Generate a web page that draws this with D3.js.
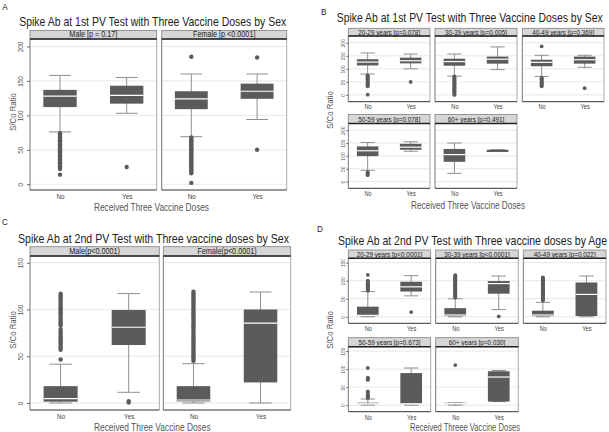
<!DOCTYPE html>
<html>
<head>
<meta charset="utf-8">
<script src="https://cdn.jsdelivr.net/npm/d3@7"></script>
<style>
  body { margin: 0; background: #fff; }
  svg { display: block; font-family: "Liberation Sans", Arial, sans-serif; }
</style>
</head>
<body>
<div id="container"></div>
<script>
// ---- data ----
const doses = ["No", "Yes"];

// box stats per facet: [lower whisker, q1, median, q3, upper whisker] for No, Yes
const stripsA = ["Male [p = 0.17]", "Female [p <0.0001]"];
const boxesA = [
  [[76, 112, 128, 137, 158], [103, 117, 129, 143, 155]],
  [[69, 109, 124, 135, 160], [94, 124, 135, 146, 160]]
];
const outliersA = [
  [[74, 72, 70, 68, 66, 64, 62, 60, 58, 56, 54, 52, 50, 48, 46, 44, 42, 40, 38, 36, 34, 32, 30, 28, 26, 24, 22, 14], [25]],
  [[185, 68, 66, 64, 62, 60, 58, 56, 54, 52, 50, 48, 46, 44, 42, 40, 38, 36, 34, 32, 30, 28, 26, 24, 22, 20, 18, 16, 2], [184, 50]]
];

const stripsB = ["20-29 years [p=0.078]", "30-39 years [p=0.005]", "40-49 years [p=0.369]", "50-59 years [p=0.078]", "60+ years [p=0.491]"];
const boxesB = [
  [[80, 113, 126, 137, 161], [100, 121, 131, 143, 157]],
  [[72, 112, 128, 139, 157], [97, 120, 137, 147, 184]],
  [[71, 110, 125, 135, 152], [106, 120, 135, 147, 152]],
  [[44, 99, 120, 137, 152], [118, 124, 134, 147, 155]],
  [[32, 77, 105, 127, 150], [113, 113, 113, 124, 124]]
];
const outliersB = [
  [[75, 72, 69, 66, 63, 60, 57, 54, 51, 48, 45, 42, 39, 36, 33, 1], [50]],
  [[71, 68, 65, 62, 59, 56, 53, 50, 47, 44, 41, 38, 35, 32, 29, 26, 23, 20, 17, 14, 11, 8, 5, 2, 0], []],
  [[186, 66, 63, 60, 57, 54, 51, 48, 45, 42, 39, 36, 33], [26]],
  [[37, 34, 31, 28, 25], []],
  [[], []]
];

const stripsC = ["Male(p<0.0001)", "Female(p<0.0001)"];
const boxesC = [
  [[0, 1.4, 4.6, 18, 41.5], [11.4, 62, 81, 99.4, 117]],
  [[0, 1.7, 3.2, 18, 42], [0, 22, 85.4, 100, 118.7]]
];
const outliersC = [
  [[46.5, 57, 59, 61, 63, 65, 67, 69, 71, 73, 75, 77, 79, 83, 85, 87, 89, 91, 93, 95, 97, 99, 101, 103, 105, 107, 109, 111, 113, 115, 117], [2, 0.5]],
  [[45, 47, 49, 51, 53, 55, 57, 59, 61, 63, 65, 67, 69, 71, 73, 75, 77, 79, 81, 83, 85, 87, 89, 91, 93, 95, 97, 99, 101, 103, 105, 107, 109, 111, 113, 115, 117, 119], []]
];

const stripsD = ["20-29 years [p<0.0001]", "30-39 years [p<0.0001]", "40-49 years [p=0.022]", "50-59 years [p=0.673]", "60+ years [p=0.030]"];
const boxesD = [
  [[0, 2, 4, 28, 70], [58, 70, 83, 97, 114]],
  [[0, 2, 5, 24, 50], [20, 64, 92, 99, 113]],
  [[0, 2, 5, 17, 40], [0, 2, 62, 95, 113]],
  [[0, 3, 4, 7, 17], [0, 3, 4, 89, 103]],
  [[0, 3, 5, 7, 7], [10, 10, 78, 94, 96]]
];
const outliersD = [
  [[116, 100, 98, 96, 92, 90, 88, 86, 84, 82, 80, 78, 76, 74, 72], [13]],
  [[115, 113, 111, 109, 107, 105, 103, 101, 99, 97, 95, 93, 91, 89, 87, 85, 83, 81, 79, 77, 75, 73, 71, 69, 67, 65, 63, 61, 59, 57, 55, 53], [1]],
  [[109, 107, 105, 103, 101, 99, 97, 95, 93, 91, 89, 87, 85, 83, 81, 79, 77, 75, 73, 71, 69, 67, 65, 63, 61, 59, 57, 55, 53, 51, 49, 47, 45], []],
  [[103, 76, 74, 72, 70, 38, 36, 30, 28, 25, 22, 20], []],
  [[111], []]
];

// ---- layout ----
const SX = 0.86; // the source text is horizontally condensed

const figures = [
  { strips: stripsA, boxes: boxesA, outliers: outliersA,
    cols: [[30, 156.7], [161.7, 286.7]], rows: [[30.5, 39, 190]], perRow: 2,
    domain: [-8.3, 210.8], ticks: [0, 50, 100, 150, 200],
    stripFont: 8.4, tickFont: 7.4, tickOff: 9.3, tickLen: 3, xFont: 7.4, xOff: 6.7, r: 2.2,
    letter: ["A", 5, 7], title: ["Spike Ab at 1st PV Test with Three Vaccine Doses by Sex", 152.7, 21.3, 267],
    xTitle: ["Received Three Vaccine Doses", 151.5, 208, 115], yTitle: [12.3, 112] },
  { strips: stripsB, boxes: boxesB, outliers: outliersB,
    cols: [[348.3, 430], [435, 517], [522.3, 604]], rows: [[28.3, 36, 101.7], [114.5, 123.5, 188.3]], perRow: 3,
    domain: [-26, 226], ticks: [0, 50, 100, 150, 200],
    stripFont: 7.4, tickFont: 5.9, tickOff: 5.6, tickLen: 2, xFont: 6.6, xOff: 4.6, r: 1.9,
    letter: ["B", 323.7, 12], title: ["Spike Ab at 1st PV Test with Three Vaccine Doses by Sex", 469.7, 18, 266],
    xTitle: ["Received Three Vaccine Doses", 468, 205.7, 114], yTitle: [330, 110] },
  { strips: stripsC, boxes: boxesC, outliers: outliersC,
    cols: [[30, 159.3], [163.3, 290.7]], rows: [[246.7, 256, 410]], perRow: 2,
    domain: [-7.5, 157.2], ticks: [0, 50, 100, 150],
    stripFont: 8.4, tickFont: 7.4, tickOff: 9.3, tickLen: 3, xFont: 7.4, xOff: 6, r: 2.2,
    letter: ["C", 5, 222], title: ["Spike Ab at 2nd PV Test with Three vaccine doses by Sex", 153.5, 238.7, 271],
    xTitle: ["Received Three Vaccine Doses", 152.3, 427.7, 116.7], yTitle: [12.3, 330] },
  { strips: stripsD, boxes: boxesD, outliers: outliersD,
    cols: [[348.3, 430.7], [435.7, 518.3], [523.3, 606]], rows: [[250, 258.3, 323.3], [337.7, 346.7, 411.7]], perRow: 3,
    domain: [-18, 162], ticks: [0, 50, 100, 150],
    stripFont: 7.4, tickFont: 5.9, tickOff: 5.6, tickLen: 2, xFont: 6.6, xOff: 5.3, r: 1.9,
    letter: ["D", 320, 228.5], title: ["Spike Ab at 2nd PV Test with Three vaccine doses by Age", 472.5, 241, 269],
    xTitle: ["Received Threee Vaccine Doses", 465, 427.3, 110], yTitle: [330, 330] }
];

const boxFill = "#5b5b5b";
const whiskerColor = "#8f8f8f";

const svg = d3.select("#container")
  .append("svg")
  .attr("width", 609)
  .attr("height", 432);

svg.append("rect").attr("width", 609).attr("height", 432).attr("fill", "#fff");

function label(g, x, y, s, size, opts = {}) {
  const t = g.append("text")
    .attr("transform", `translate(${x},${y})${opts.rotate ? " rotate(-90)" : ""} scale(${SX},1)`)
    .attr("text-anchor", opts.anchor || "middle")
    .attr("dominant-baseline", "central")
    .attr("font-size", size)
    .attr("fill", opts.color || "#333")
    .text(s);
  if (opts.width) t.attr("textLength", opts.width / SX).attr("lengthAdjust", "spacingAndGlyphs");
  return t;
}

function drawFacet(fig, i) {
  const [left, right] = fig.cols[i % fig.perRow];
  const [sTop, sBot, pBot] = fig.rows[Math.floor(i / fig.perRow)];

  const x = d3.scalePoint().domain(doses).range([left, right]).padding(0.45);
  const y = d3.scaleLinear().domain(fig.domain).range([pBot, sBot]);
  const bw = x.step() * 0.5;
  const cw = bw * 0.66;

  const g = svg.append("g");

  g.selectAll("line.grid")
    .data(fig.ticks)
    .join("line")
    .attr("x1", left).attr("x2", right)
    .attr("y1", d => y(d)).attr("y2", d => y(d))
    .attr("stroke", "#e2e2e2")
    .attr("stroke-width", 0.8);

  const boxes = g.selectAll("g.box")
    .data(doses.map((d, j) => ({ dose: d, s: fig.boxes[i][j], out: fig.outliers[i][j] })))
    .join("g");

  boxes.append("line")
    .attr("x1", d => x(d.dose)).attr("x2", d => x(d.dose))
    .attr("y1", d => y(d.s[0])).attr("y2", d => y(d.s[4]))
    .attr("stroke", whiskerColor);

  boxes.selectAll("line.cap")
    .data(d => [d.s[0], d.s[4]].map(v => ({ dose: d.dose, v })))
    .join("line")
    .attr("x1", d => x(d.dose) - cw / 2).attr("x2", d => x(d.dose) + cw / 2)
    .attr("y1", d => y(d.v)).attr("y2", d => y(d.v))
    .attr("stroke", whiskerColor);

  boxes.append("rect")
    .attr("x", d => x(d.dose) - bw / 2)
    .attr("width", bw)
    .attr("y", d => y(d.s[3]))
    .attr("height", d => Math.max(1, y(d.s[1]) - y(d.s[3])))
    .attr("fill", boxFill);

  boxes.append("line")
    .attr("x1", d => x(d.dose) - bw / 2).attr("x2", d => x(d.dose) + bw / 2)
    .attr("y1", d => y(d.s[2])).attr("y2", d => y(d.s[2]))
    .attr("stroke", "#fff")
    .attr("stroke-width", 1.2);

  boxes.selectAll("circle")
    .data(d => d.out.map(v => ({ dose: d.dose, v })))
    .join("circle")
    .attr("cx", d => x(d.dose))
    .attr("cy", d => y(d.v))
    .attr("r", fig.r)
    .attr("fill", boxFill);

  // y axis on the first column only
  if (i % fig.perRow === 0) {
    const ay = g.append("g")
      .attr("transform", `translate(${left},0)`)
      .call(d3.axisLeft(y).tickValues(fig.ticks).tickSize(fig.tickLen).tickSizeOuter(0));
    ay.select(".domain").remove();
    ay.attr("font-size", null).attr("font-family", null);
    ay.selectAll(".tick line").attr("stroke", "#666");
    ay.selectAll(".tick text")
      .attr("x", 0).attr("dy", 0)
      .attr("transform", `translate(${-fig.tickOff},0) rotate(-90) scale(${SX},1)`)
      .attr("text-anchor", "middle")
      .attr("dominant-baseline", "central")
      .attr("font-size", fig.tickFont)
      .attr("fill", "#555");
  }

  const ax = g.append("g")
    .attr("transform", `translate(0,${pBot})`)
    .call(d3.axisBottom(x).tickSize(0).tickSizeOuter(0));
  ax.select(".domain").remove();
  ax.attr("font-size", null).attr("font-family", null);
  ax.selectAll(".tick text")
    .attr("y", 0).attr("dy", 0)
    .attr("transform", `translate(0,${fig.xOff}) scale(${SX},1)`)
    .attr("dominant-baseline", "central")
    .attr("font-size", fig.xFont)
    .attr("fill", "#444");

  // frame
  g.append("line").attr("x1", left).attr("x2", left).attr("y1", sBot).attr("y2", pBot).attr("stroke", "#777");
  g.append("line").attr("x1", right).attr("x2", right).attr("y1", sBot).attr("y2", pBot).attr("stroke", "#aaa");
  g.append("line").attr("x1", left).attr("x2", right).attr("y1", pBot).attr("y2", pBot).attr("stroke", "#333");

  // strip
  g.append("rect")
    .attr("x", left).attr("y", sTop)
    .attr("width", right - left).attr("height", sBot - sTop)
    .attr("fill", "#d6d6d6")
    .attr("stroke", "#808080")
    .attr("stroke-width", 0.8);
  g.append("line").attr("x1", left).attr("x2", right).attr("y1", sBot).attr("y2", sBot)
    .attr("stroke", "#222").attr("stroke-width", 1.4);
  label(g, (left + right) / 2, (sTop + sBot) / 2, fig.strips[i], fig.stripFont, { color: "#222" });
}

figures.forEach(fig => {
  fig.strips.forEach((s, i) => drawFacet(fig, i));
  const g = svg.append("g");
  label(g, fig.letter[1], fig.letter[2], fig.letter[0], 9.5, { color: "#222" });
  label(g, fig.title[1], fig.title[2], fig.title[0], 12, { color: "#222", width: fig.title[3] });
  label(g, fig.xTitle[1], fig.xTitle[2], fig.xTitle[0], 10, { color: "#555", width: fig.xTitle[3] });
  label(g, fig.yTitle[0], fig.yTitle[1], "S/Co Ratio", 9, { color: "#555", rotate: true });
});
</script>
</body>
</html>
